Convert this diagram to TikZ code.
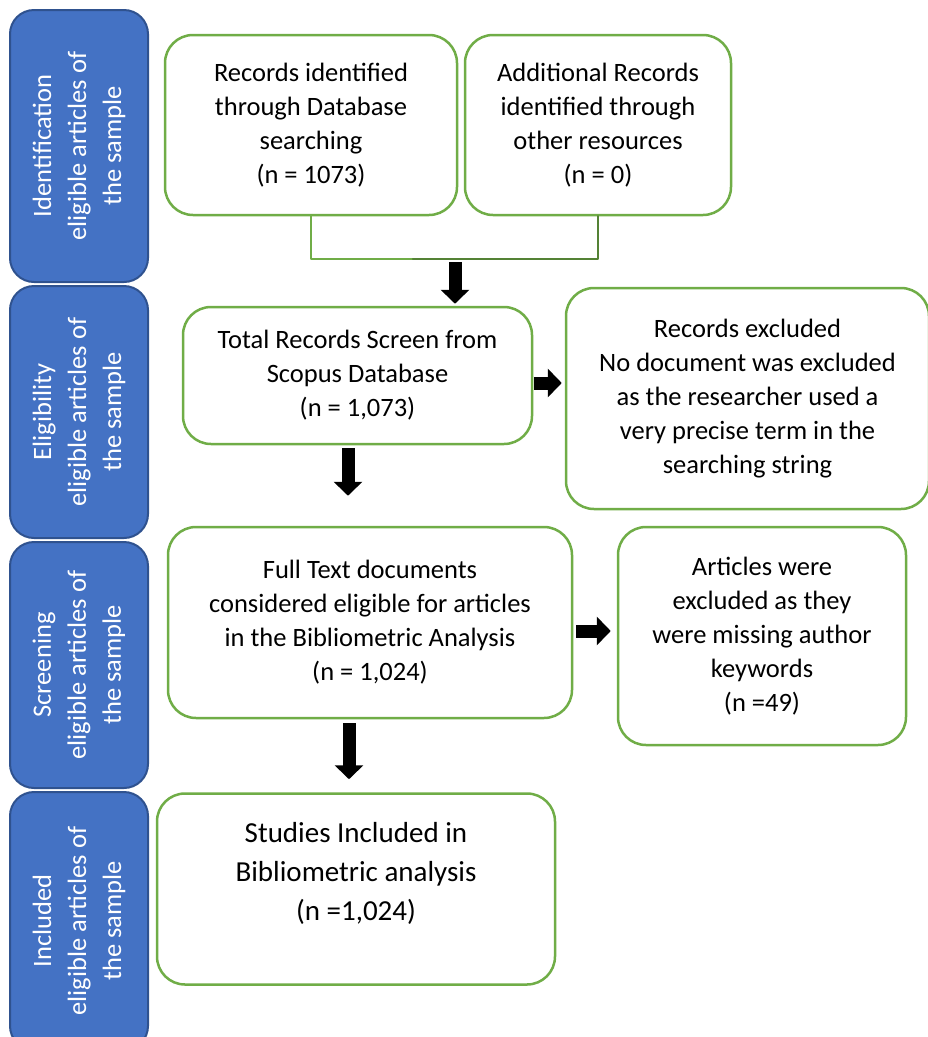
\documentclass[tikz,border=0pt]{standalone}
\usepackage{fontspec}
\setmainfont{Carlito}
\usetikzlibrary{arrows.meta,positioning,calc}

\definecolor{stageblue}{HTML}{4472C4}
\definecolor{stageedge}{HTML}{2F528F}
\definecolor{boxgreen}{HTML}{70AD47}
\definecolor{linkgreen}{HTML}{548235}

\begin{document}
\begin{tikzpicture}[
  x=1pt,
  y=-1pt,
  line cap=round,
  line join=round,
  stage/.style={
    draw=stageedge, line width=2pt, fill=stageblue,
    rounded corners=24pt, rotate=90, text=white,
    align=center, inner sep=0pt, minimum height=138pt,
    font=\fontsize{26.5}{35}\selectfont
  },
  recbox/.style={
    draw=boxgreen, line width=2.5pt, fill=white,
    rounded corners=28pt, align=center, inner sep=0pt,
    font=\fontsize{26.5}{34}\selectfont
  },
  blockarrow/.style={
    line width=13pt, line cap=butt,
    -{Triangle[length=14pt,width=28pt]}
  }
]

\useasboundingbox (0,0) rectangle (928,1037);

% Stages on the left
\node[stage, minimum width=272pt] (ident) at (79,146)
  {Identification\\eligible articles of\\the sample};
\node[stage, minimum width=252pt] (elig) at (79,412)
  {Eligibility\\eligible articles of\\the sample};
\node[stage, minimum width=246pt] (screen) at (79,665)
  {Screening\\eligible articles of\\the sample};
\node[stage, minimum width=258pt] (incl) at (79,921)
  {Included\\eligible articles of\\the sample};

% Record boxes
\node[recbox, minimum width=292pt, minimum height=180pt] (dbrec) at (311,125)
  {Records identified\\through Database\\searching\\(n = 1073)};
\node[recbox, minimum width=266pt, minimum height=180pt] (otherrec) at (598,125)
  {Additional Records\\identified through\\other resources\\(n = 0)};
\node[recbox, minimum width=349pt, minimum height=137pt] (total) at (357.5,375.5)
  {Total Records Screen from\\Scopus Database\\(n = 1,073)};
\node[recbox, minimum width=363pt, minimum height=221pt] (excl) at (747.5,398.5)
  {Records excluded\\No document was excluded\\as the researcher used a\\very precise term in the\\searching string};
\node[recbox, minimum width=404pt, minimum height=191pt] (fulltext) at (370,622.5)
  {Full Text documents\\considered eligible for articles\\in the Bibliometric Analysis\\(n = 1,024)};
\node[recbox, minimum width=288pt, minimum height=218pt] (nokeys) at (762,636)
  {Articles were\\excluded as they\\were missing author\\keywords\\(n =49)};
% Text sits in the upper part of this box
\node[recbox, minimum width=398pt, minimum height=191pt,
      font=\fontsize{29}{39}\selectfont] (studies) at (356,889)
  {Studies Included in\\Bibliometric analysis\\(n =1,024)\\[-4pt]\mbox{}};

% Merge of the two sources
\coordinate (join) at (413,259);
\coordinate (merge) at (455,262);
\draw[boxgreen, line width=2.5pt] (dbrec.south) |- (join);
\draw[linkgreen, line width=2.5pt] (otherrec.south) |- (join);

% Block arrows
\draw[blockarrow, shorten >=2pt] (merge) -- (merge |- total.north);
\draw[blockarrow, shorten <=1pt, shorten >=3pt]
  ([yshift=-7.5pt]total.east) -- ([yshift=-7.5pt]total.east -| excl.west);
\draw[blockarrow, shorten <=3pt, shorten >=30pt]
  ([xshift=-9.5pt]total.south) -- ([xshift=-9.5pt]total.south |- fulltext.north);
\draw[blockarrow, shorten <=3pt, shorten >=6pt]
  ([yshift=-8.5pt]fulltext.east) -- ([yshift=-8.5pt]fulltext.east -| nokeys.west);
\draw[blockarrow, shorten <=4pt, shorten >=13pt]
  ([xshift=-21pt]fulltext.south) -- ([xshift=-21pt]fulltext.south |- studies.north);

\end{tikzpicture}
\end{document}
